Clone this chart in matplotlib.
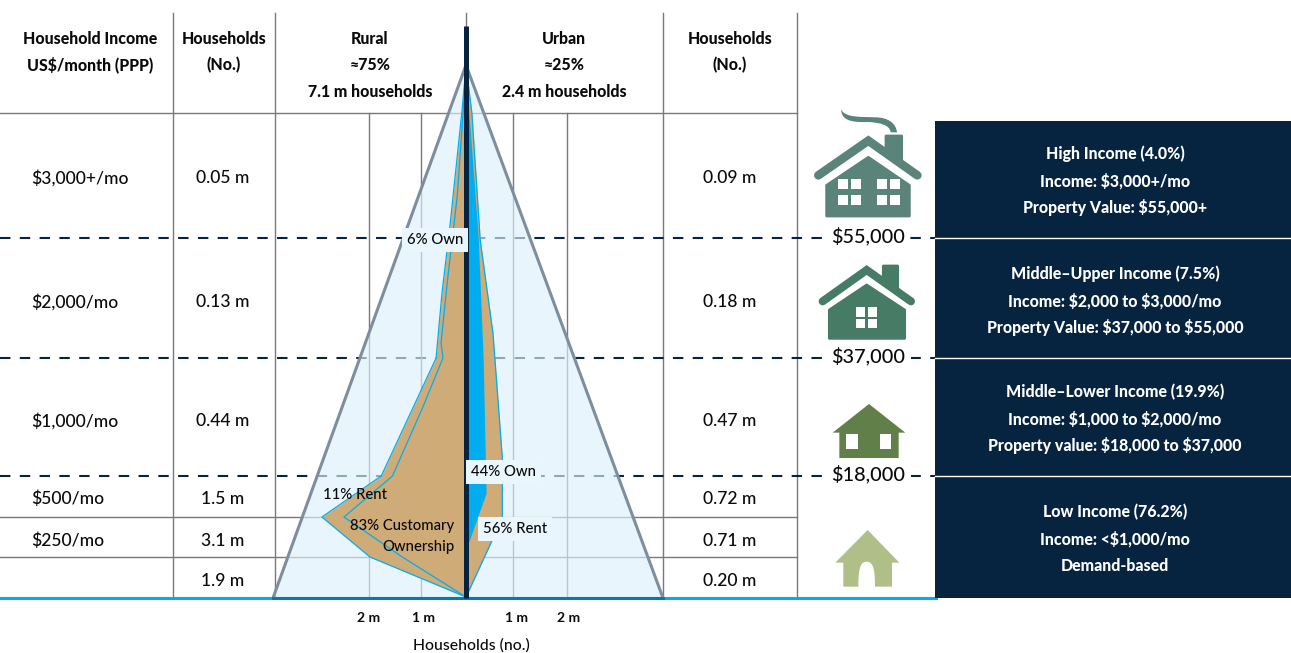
import matplotlib
matplotlib.use('Agg')
import matplotlib.pyplot as plt
from matplotlib.patches import Polygon, Rectangle, PathPatch
from matplotlib.path import Path

plt.rcParams['font.family'] = ['Lato', 'DejaVu Sans']
plt.rcParams['text.parse_math'] = False

W, H = 1291, 653
NAVY = '#06233F'
GREY = '#77797B'
TAN = '#CFAB78'
CYAN = '#00AEEF'
INK = '#0A0A0A'

# table rows
row_income = ['$3,000+/mo', '$2,000/mo', '$1,000/mo', '$500/mo', '$250/mo', '']
row_rural_hh = ['0.05 m', '0.13 m', '0.44 m', '1.5 m', '3.1 m', '1.9 m']
row_urban_hh = ['0.09 m', '0.18 m', '0.47 m', '0.72 m', '0.71 m', '0.20 m']
row_y = [177, 301, 420, 498, 540, 580]

threshold_labels = ['$55,000', '$37,000', '$18,000']
threshold_y = [238, 358, 476]
solid_y = [113, 517, 557]

panel_text = [
    ['High Income (4.0%)', 'Income: $3,000+/mo', 'Property Value: $55,000+'],
    ['Middle\u2013Upper Income (7.5%)', 'Income: $2,000 to $3,000/mo', 'Property Value: $37,000 to $55,000'],
    ['Middle\u2013Lower Income (19.9%)', 'Income: $1,000 to $2,000/mo', 'Property value: $18,000 to $37,000'],
    ['Low Income (76.2%)', 'Income: <$1,000/mo', 'Demand-based'],
]
panel_y = [154, 274, 392, 512]

# pyramid outlines, millions of households (x) against height on the page (y)
rural_outer_y = [66, 110, 227, 293, 358, 476, 517, 557, 597]
rural_outer_x = [0, 0.08, 0.33, 0.49, 0.61, 1.73, 2.94, 1.96, 0]
rural_inner_y = [66, 113, 197, 277, 343, 358, 407, 476, 517, 557, 597]
rural_inner_x = [0, 0.06, 0.18, 0.37, 0.51, 0.47, 0.88, 1.50, 2.49, 1.30, 0]
urban_outer_y = [66, 113, 240, 333, 457, 517, 545, 597]
urban_outer_x = [0, 0.12, 0.29, 0.55, 0.74, 0.74, 0.49, 0]
urban_own_y = [66, 113, 238, 358, 493, 547]
urban_own_x = [0, 0.06, 0.25, 0.35, 0.41, 0.02]

grid_m = [-1.98, -0.92, 0.96, 2.06]
tick_m = [-1.98, -0.86, 1.04, 2.10]
tick_labels = ['2 m', '1 m', '1 m', '2 m']
CENTER = 466
PX_PER_M = 49

fig = plt.figure(figsize=(W / 100, H / 100), dpi=100)
ax = fig.add_axes([0, 0, 1, 1])
ax.set_xlim(0, W)
ax.set_ylim(H, 0)
ax.axis('off')

# table frame
for x in [173, 275, 663, 797]:
    ax.plot([x, x], [13, 598], color=GREY, lw=1.0, zorder=1)
for y in solid_y:
    ax.plot([0, 797], [y, y], color=GREY, lw=1.0, zorder=1)
ax.plot([466, 466], [13, 30], color=GREY, lw=1.0, zorder=1)
for y in threshold_y:
    ax.plot([0, 935], [y, y], color=NAVY, lw=1.5, dashes=(5, 4.5), zorder=1)
ax.plot([0, 936], [598, 598], color=CYAN, lw=2.2, zorder=2)

# headers
hdr = dict(fontsize=11.4, fontweight='black', color=INK, ha='center', va='center')
ax.text(90, 38.5, 'Household Income', **hdr)
ax.text(90, 65, 'US$/month (PPP)', **hdr)
ax.text(224, 38.5, 'Households', **hdr)
ax.text(224, 65, '(No.)', **hdr)
ax.text(370, 38.5, 'Rural', **hdr)
ax.text(370, 65, '\u224875%', **hdr)
ax.text(370, 92, '7.1 m households', **hdr)
ax.text(564, 38.5, 'Urban', **hdr)
ax.text(564, 65, '\u224825%', **hdr)
ax.text(564, 92, '2.4 m households', **hdr)
ax.text(730, 38.5, 'Households', **hdr)
ax.text(730, 65, '(No.)', **hdr)

for label, left, right, y in zip(row_income, row_rural_hh, row_urban_hh, row_y):
    ax.text(31, y + 1, label, fontsize=12.6, fontweight='medium', color=INK, ha='left', va='center')
    ax.text(223, y + 1, left, fontsize=12.6, fontweight='medium', color=INK, ha='center', va='center')
    ax.text(730, y + 1, right, fontsize=12.6, fontweight='medium', color=INK, ha='center', va='center')

# right hand panels
ax.add_patch(Rectangle((935, 121), W - 935, 477, color=NAVY, lw=0, zorder=3))
for y in threshold_y:
    ax.plot([935, W], [y, y], color='white', lw=1.0, zorder=4)
for lines, y0 in zip(panel_text, panel_y):
    for i, line in enumerate(lines):
        ax.text(1115, y0 + i * 27, line, color='white', fontsize=11.4, fontweight='black',
                ha='center', va='center', zorder=5)

for label, y in zip(threshold_labels, threshold_y):
    ax.text(868, y - 2, label, fontsize=14.3, fontweight='medium', color=INK, ha='center', va='center', zorder=5,
            bbox=dict(fc='white', ec='none', pad=4))


def z(ox, oy, pts):
    return [(ox + a / 3, oy + b / 3) for a, b in pts]


def squares(ox, oy, boxes, zorder=6):
    for x0, y0, x1, y1 in boxes:
        ax.add_patch(Rectangle((ox + x0 / 3, oy + y0 / 3), (x1 - x0) / 3, (y1 - y0) / 3,
                               fc='white', ec='none', zorder=zorder))


def body(ox, oy, pts, color):
    ax.add_patch(Polygon(z(ox, oy, pts), closed=True, fc=color, ec=color, lw=2, joinstyle='round', zorder=5))


def roof(ox, oy, pts, color, lw):
    xy = z(ox, oy, pts)
    ax.plot([p[0] for p in xy], [p[1] for p in xy], color=color, lw=lw,
            solid_capstyle='round', solid_joinstyle='miter', zorder=5)


c1 = '#5A8379'
body(800, 100, [(258, 108), (305, 108), (305, 190), (258, 150)], c1)
roof(800, 100, [(55, 226), (205, 122), (352, 226)], c1, 6.2)
body(800, 100, [(80, 256), (205, 172), (328, 256), (328, 348), (80, 348)], c1)
squares(800, 100, [(114, 237, 145, 267), (153, 237, 183, 267), (114, 285, 145, 315), (153, 285, 183, 315),
                   (232, 237, 262, 267), (270, 237, 300, 267), (232, 285, 262, 315), (270, 285, 300, 315)])
smoke = Path(z(800, 100, [(123, 28), (135, 55), (190, 50), (225, 52), (265, 52), (288, 70), (291, 97),
                          (272, 97), (270, 75), (240, 68), (205, 66), (150, 68), (125, 60), (123, 28)]),
             [Path.MOVETO, Path.CURVE4, Path.CURVE4, Path.CURVE4, Path.CURVE4, Path.CURVE4, Path.CURVE4,
              Path.LINETO, Path.CURVE4, Path.CURVE4, Path.CURVE4, Path.CURVE4, Path.CURVE4, Path.CURVE4])
ax.add_patch(PathPatch(smoke, fc=c1, ec='none', zorder=5))

c2 = '#467C66'
body(800, 100, [(250, 498), (293, 498), (293, 570), (250, 535)], c2)
roof(800, 100, [(68, 604), (200, 510), (333, 604)], c2, 5.8)
body(800, 100, [(88, 630), (200, 555), (314, 630), (314, 715), (88, 715)], c2)
squares(800, 100, [(168, 622, 195, 650), (205, 622, 232, 650), (168, 658, 195, 685), (205, 658, 232, 685)])

c3 = '#618049'
ax.add_patch(Polygon(z(800, 390, [(207, 42), (316, 128), (296, 128), (296, 204), (118, 204), (118, 128), (98, 128)]),
                     closed=True, fc=c3, ec='none', zorder=5))
squares(800, 390, [(139, 132, 174, 177), (239, 132, 274, 177)])

c4 = '#B0BF88'
door = Path(z(800, 390, [(130, 590), (130, 518), (106, 518), (203, 420), (298, 518), (276, 518), (276, 590),
                         (225, 590), (225, 545), (222, 515), (200, 515), (178, 515), (175, 545), (175, 590), (130, 590)]),
            [Path.MOVETO] + [Path.LINETO] * 7 + [Path.CURVE4] * 6 + [Path.LINETO])
ax.add_patch(PathPatch(door, fc=c4, ec='none', zorder=5))

# pyramid, x in millions of households (rural to the left)
pyr = fig.add_axes([273 / W, 0, 390 / W, 1])
pyr.set_xlim((273 - CENTER) / PX_PER_M, (663 - CENTER) / PX_PER_M)
pyr.set_ylim(H, 0)
pyr.axis('off')
pyr.patch.set_alpha(0)

for m in grid_m:
    pyr.plot([m, m], [113, 598], color=GREY, lw=1.0, zorder=1)

left_edge = (273 - CENTER) / PX_PER_M
right_edge = (663 - CENTER) / PX_PER_M
pyr.add_patch(Polygon([(0, 65), (left_edge, 598), (right_edge, 598)], closed=True,
                      fc='#DDF1FC', ec='none', alpha=0.65, zorder=2))
pyr.plot([left_edge, 0, right_edge], [598, 65, 598], color='#7F8E9E', lw=2.2, zorder=3,
         solid_joinstyle='miter', clip_on=False)
pyr.plot([left_edge, right_edge], [598, 598], color='#0B77AE', lw=2.2, zorder=3, clip_on=False)

pyr.fill_betweenx(rural_outer_y, [-v for v in rural_outer_x], 0, color=TAN, lw=0, zorder=4)
pyr.plot([-v for v in rural_outer_x], rural_outer_y, color=CYAN, lw=0.9, zorder=5)
pyr.plot([-v for v in rural_inner_x], rural_inner_y, color=CYAN, lw=0.9, zorder=5)
pyr.fill_betweenx(urban_outer_y, urban_outer_x, 0, color=TAN, lw=0, zorder=4)
pyr.plot(urban_outer_x, urban_outer_y, color=CYAN, lw=0.9, zorder=5)
pyr.fill_betweenx(urban_own_y, urban_own_x, 0, color=CYAN, lw=0, zorder=5)
pyr.plot([0, 0], [26, 598], color=NAVY, lw=3.6, zorder=7, solid_capstyle='butt')

lab = dict(fontsize=10.7, fontweight='medium', color=INK, va='center', zorder=8)
box = dict(fc='#E9F6FD', ec='none', pad=3.5)
pyr.text(-1.2, 240, '6% Own', ha='left', bbox=box, **lab)
pyr.text(0.1, 472, '44% Own', ha='left', bbox=box, **lab)
pyr.text(0.34, 529, '56% Rent', ha='left', bbox=box, **lab)
pyr.text(-2.91, 495, '11% Rent', ha='left', **lab)
pyr.text(-0.24, 526, '83% Customary', ha='right', **lab)
pyr.text(-0.24, 547, 'Ownership', ha='right', **lab)

# axis tick labels
for m, lbl in zip(tick_m, tick_labels):
    pyr.text(m, 618, lbl, fontsize=10, fontweight='bold', color=INK, ha='center', va='center', clip_on=False)
ax.text(471, 645, 'Households (no.)', fontsize=11.3, fontweight='medium', color=INK, ha='center', va='center')

fig.savefig('out.png', dpi=100, facecolor='white')
